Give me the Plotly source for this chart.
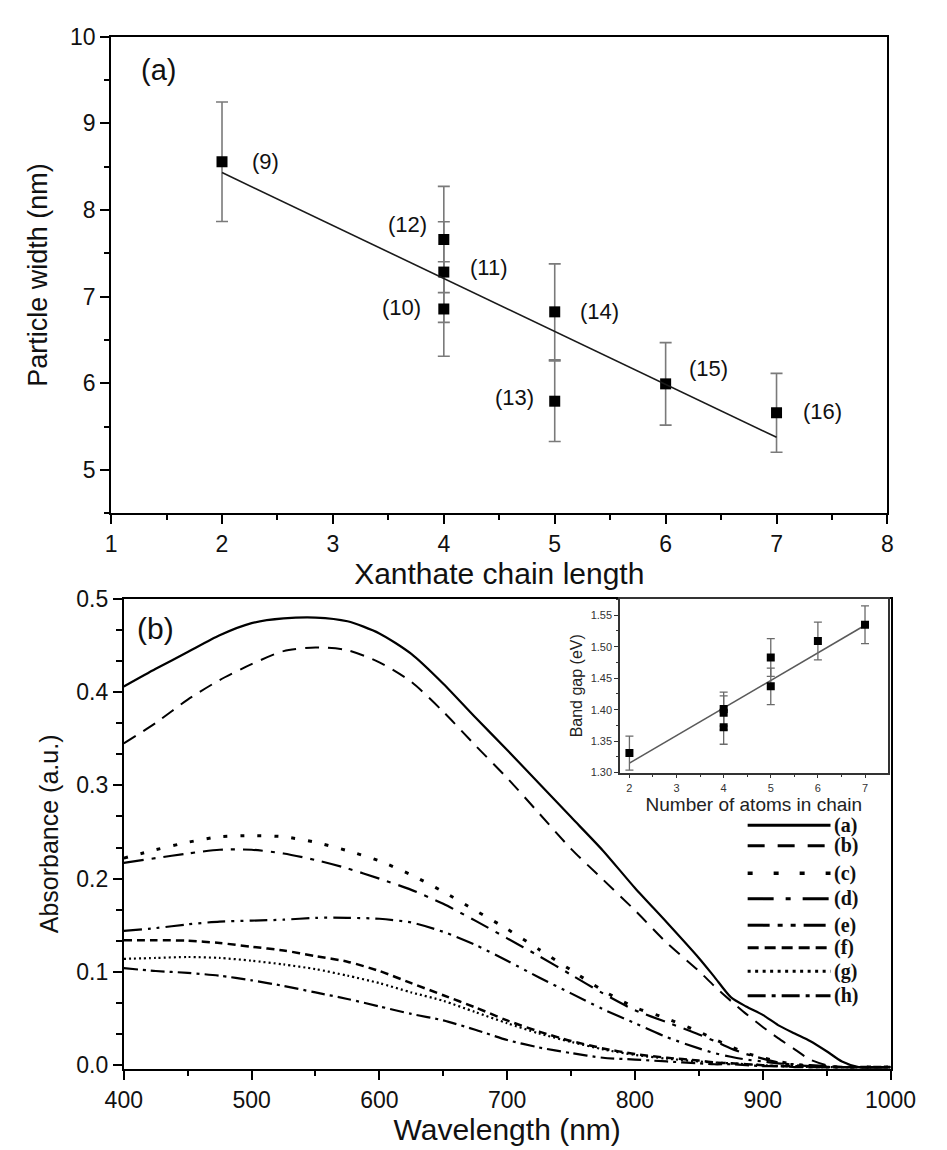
import plotly.graph_objects as go

# ---------------- Panel (a): particle width vs xanthate chain length ----------------
chain_length = [2, 4, 4, 4, 5, 5, 6, 7]
particle_width = [8.556, 6.857, 7.283, 7.659, 5.793, 6.824, 5.993, 5.659]
particle_width_err = [0.69, 0.545, 0.58, 0.613, 0.465, 0.553, 0.476, 0.455]
sample_labels = ["(9)", "(10)", "(11)", "(12)", "(13)", "(14)", "(15)", "(16)"]
width_fit_x = [2, 7]
width_fit_y = [8.431, 5.376]

# ---------------- Inset: band gap vs number of atoms in chain ----------------
atoms_in_chain = [2, 4, 4, 4, 5, 5, 6, 7]
band_gap = [1.331, 1.372, 1.395, 1.401, 1.437, 1.483, 1.509, 1.535]
band_gap_err = [0.027, 0.027, 0.027, 0.027, 0.029, 0.030, 0.030, 0.030]
gap_fit_x = [2, 7]
gap_fit_y = [1.315, 1.534]

# ---------------- Panel (b): absorption spectra ----------------
wavelength = [400, 425, 450, 475, 500, 525, 550, 575, 600, 625, 650, 675, 700, 725,
              750, 775, 800, 825, 850, 862, 875, 887, 900, 912, 925, 937, 950, 962,
              975, 1000]
abs_a = [0.406, 0.425, 0.443, 0.461, 0.474, 0.479, 0.480, 0.476, 0.463, 0.441, 0.409,
         0.373, 0.338, 0.302, 0.266, 0.230, 0.190, 0.153, 0.115, 0.095, 0.073, 0.063,
         0.054, 0.043, 0.034, 0.026, 0.015, 0.004, -0.002, -0.002]
abs_b = [0.345, 0.367, 0.392, 0.413, 0.430, 0.444, 0.448, 0.445, 0.432, 0.411, 0.379,
         0.343, 0.308, 0.270, 0.232, 0.199, 0.166, 0.131, 0.101, 0.085, 0.069, 0.055,
         0.041, 0.029, 0.017, 0.006, 0.000, -0.002, -0.002, -0.002]
abs_c = [0.222, 0.231, 0.239, 0.245, 0.246, 0.245, 0.239, 0.230, 0.219, 0.204, 0.186,
         0.166, 0.146, 0.124, 0.102, 0.080, 0.062, 0.050, 0.036, 0.028, 0.020, 0.013,
         0.008, 0.004, 0.001, -0.001, -0.002, -0.002, -0.002, -0.002]
abs_d = [0.217, 0.222, 0.227, 0.231, 0.231, 0.227, 0.220, 0.211, 0.200, 0.188, 0.173,
         0.155, 0.136, 0.117, 0.097, 0.077, 0.059, 0.046, 0.033, 0.026, 0.018, 0.012,
         0.007, 0.003, 0.000, -0.001, -0.002, -0.002, -0.002, -0.002]
abs_e = [0.144, 0.147, 0.151, 0.154, 0.155, 0.156, 0.158, 0.158, 0.157, 0.153, 0.143,
         0.129, 0.112, 0.094, 0.077, 0.060, 0.045, 0.030, 0.018, 0.013, 0.009, 0.006,
         0.004, 0.002, 0.001, 0.000, -0.001, -0.002, -0.002, -0.002]
abs_f = [0.134, 0.134, 0.1335, 0.131, 0.127, 0.123, 0.117, 0.111, 0.101, 0.088, 0.075,
         0.062, 0.048, 0.036, 0.026, 0.018, 0.012, 0.008, 0.005, 0.003, 0.002, 0.001,
         0.000, -0.001, -0.001, -0.002, -0.002, -0.002, -0.002, -0.002]
abs_g = [0.114, 0.115, 0.116, 0.115, 0.112, 0.108, 0.103, 0.096, 0.088, 0.078, 0.069,
         0.057, 0.045, 0.034, 0.025, 0.017, 0.011, 0.007, 0.004, 0.003, 0.002, 0.001,
         0.000, -0.001, -0.001, -0.002, -0.002, -0.002, -0.002, -0.002]
abs_h = [0.104, 0.101, 0.099, 0.096, 0.091, 0.085, 0.078, 0.071, 0.063, 0.055, 0.048,
         0.038, 0.027, 0.019, 0.013, 0.008, 0.006, 0.004, 0.002, 0.001, 0.001, 0.000,
         -0.001, -0.001, -0.002, -0.002, -0.002, -0.002, -0.002, -0.002]
spectrum_names = ["(a)", "(b)", "(c)", "(d)", "(e)", "(f)", "(g)", "(h)"]
spectra = [abs_a, abs_b, abs_c, abs_d, abs_e, abs_f, abs_g, abs_h]

# line styles: (dash pattern on curve, width, dash pattern in key)
curve_styles = [
    ("solid", 2.2, "solid"),
    ("14px,9px", 2.0, "17px,13px"),
    ("4px,13px", 3.0, "5px,21px"),
    ("20px,8px,4px,8px", 2.2, "26px,12px,5px,12px"),
    ("18px,6px,3px,6px,3px,6px", 2.2, "22px,8px,5px,8px,5px,8px"),
    ("8px,5px", 2.5, "11px,6px"),
    ("2px,3px", 2.2, "3px,4.5px"),
    ("14px,5px,3px,5px", 2.2, "18px,6px,4px,6px"),
]
key_rows_px = [828, 849, 877, 903, 930, 953, 977, 1002]

# label offsets (pixels) for sample numbers in panel (a)
label_shift = {
    "(9)": (43, 0), "(10)": (-42, 1), "(11)": (45, 5), "(12)": (-36, 15),
    "(13)": (-40, 4), "(14)": (45, 0), "(15)": (43, 15), "(16)": (46, 1),
}

W, H = 947, 1150
SANS = "Liberation Sans, Arial, sans-serif"
SERIF = "Liberation Serif, Times New Roman, serif"
BLACK = "#000000"
GREY = "#7a7a7a"
TXT = "#111111"

fig = go.Figure()

# panel (a)
fig.add_trace(go.Scatter(
    x=chain_length, y=particle_width, mode="markers",
    marker=dict(symbol="square", size=11, color=BLACK),
    error_y=dict(type="data", array=particle_width_err, color=GREY, thickness=1.6, width=6),
    xaxis="x", yaxis="y", showlegend=False))
fig.add_trace(go.Scatter(
    x=width_fit_x, y=width_fit_y, mode="lines",
    line=dict(color="#1a1a1a", width=1.6), xaxis="x", yaxis="y", showlegend=False))

# panel (b) spectra
for name, vals, (dash, lw, _) in zip(spectrum_names, spectra, curve_styles):
    fig.add_trace(go.Scatter(
        x=wavelength, y=vals, mode="lines", name=name,
        line=dict(color=BLACK, width=lw, dash=dash, shape="spline", smoothing=0.7),
        xaxis="x2", yaxis="y2", showlegend=False))

# inset
fig.add_trace(go.Scatter(
    x=gap_fit_x, y=gap_fit_y, mode="lines",
    line=dict(color="#5a5a5a", width=1.6), xaxis="x3", yaxis="y3", showlegend=False))
fig.add_trace(go.Scatter(
    x=atoms_in_chain, y=band_gap, mode="markers",
    marker=dict(symbol="square", size=8, color=BLACK),
    error_y=dict(type="data", array=band_gap_err, color="#6a6a6a", thickness=1.3, width=4),
    xaxis="x3", yaxis="y3", showlegend=False))


def axis_style(**kw):
    base = dict(showline=True, linecolor=BLACK, linewidth=2, mirror=True,
                ticks="outside", tickcolor=BLACK, tickwidth=2, ticklen=9,
                showgrid=False, zeroline=False,
                tickfont=dict(family=SANS, size=23, color=TXT))
    base.update(kw)
    return base


fig.update_layout(
    width=W, height=H,
    margin=dict(l=0, r=0, t=0, b=0),
    paper_bgcolor="white", plot_bgcolor="white",
    xaxis=axis_style(
        domain=[0.1021, 0.9628], range=[1, 8], dtick=1, tick0=0, anchor="y",
        minor=dict(dtick=0.5, ticks="outside", ticklen=5, tickwidth=2, tickcolor=BLACK),
        title=dict(text="Xanthate chain length", standoff=4,
                   font=dict(family=SANS, size=30, color=TXT))),
    yaxis=axis_style(
        domain=[0.5565, 0.9791], range=[4.5, 10], dtick=1, tick0=0, anchor="x",
        minor=dict(dtick=0.5, ticks="outside", ticklen=5, tickwidth=2, tickcolor=BLACK),
        title=dict(text="Particle width (nm)", standoff=14,
                   font=dict(family=SANS, size=27, color=TXT))),
    xaxis2=axis_style(
        domain=[0.1162, 0.9662], range=[400, 1000], dtick=100, tick0=0, anchor="y2",
        minor=dict(dtick=50, ticks="outside", ticklen=5, tickwidth=2, tickcolor=BLACK),
        title=dict(text="Wavelength (nm)", standoff=4,
                   font=dict(family=SANS, size=30, color=TXT))),
    yaxis2=axis_style(
        domain=[0.0639, 0.4806], range=[-0.004, 0.5], dtick=0.1, tick0=0,
        tickformat=".1f", anchor="x2",
        minor=dict(dtick=0.1 / 3, tick0=0, ticks="outside", ticklen=6, tickwidth=2,
                   tickcolor=BLACK),
        title=dict(text="Absorbance (a.u.)", standoff=10,
                   font=dict(family=SANS, size=25, color=TXT))),
    xaxis3=axis_style(
        domain=[0.6663, 0.963], range=[1.8, 7.48], dtick=1, tick0=0, anchor="y3",
        linewidth=1.5, linecolor="#333333", tickcolor="#333333", tickwidth=1.2, ticklen=4,
        tickfont=dict(family=SANS, size=11, color="#333333"),
        minor=dict(dtick=0.5, ticks="outside", ticklen=2.5, tickwidth=1.2,
                   tickcolor="#333333"),
        title=dict(text="Number of atoms in chain", standoff=2,
                   font=dict(family=SANS, size=19, color="#222222"))),
    yaxis3=axis_style(
        domain=[0.3266, 0.4806], range=[1.30, 1.576], dtick=0.05, tick0=0,
        tickformat=".2f", anchor="x3",
        linewidth=1.5, linecolor="#333333", tickcolor="#333333", tickwidth=1.2, ticklen=4,
        tickfont=dict(family=SANS, size=11, color="#333333"),
        minor=dict(dtick=0.025, tick0=0, ticks="outside", ticklen=2.5, tickwidth=1.2,
                   tickcolor="#333333"),
        title=dict(text="Band gap (eV)", standoff=4,
                   font=dict(family=SANS, size=16, color="#222222"))),
)

annotations = [
    dict(x=1.43, y=9.61, xref="x", yref="y", text="(a)", showarrow=False,
         font=dict(family=SANS, size=29, color=TXT)),
    dict(x=424.8, y=0.468, xref="x2", yref="y2", text="(b)", showarrow=False,
         font=dict(family=SANS, size=30, color=TXT)),
]
for xv, yv, lab in zip(chain_length, particle_width, sample_labels):
    dx, dy = label_shift[lab]
    annotations.append(dict(
        x=xv, y=yv, xref="x", yref="y", text=lab, showarrow=False,
        xshift=dx, yshift=dy, font=dict(family=SANS, size=22, color=TXT)))

# line-style key for the spectra
shapes = []
for name, (_, lw, key_dash), ypx in zip(spectrum_names, curve_styles, key_rows_px):
    yp = 1 - ypx / H
    shapes.append(dict(type="line", xref="paper", yref="paper",
                       x0=765 / W, x1=852 / W, y0=yp, y1=yp,
                       line=dict(color=BLACK, width=max(lw, 2.6) + 0.4, dash=key_dash)))
    annotations.append(dict(
        x=854 / W, y=yp, xref="paper", yref="paper", text=name, showarrow=False,
        xanchor="left", yanchor="middle",
        font=dict(family=SERIF, size=20, color=TXT, weight="bold")))

fig.update_layout(annotations=annotations, shapes=shapes)

fig.write_html("out.html")
